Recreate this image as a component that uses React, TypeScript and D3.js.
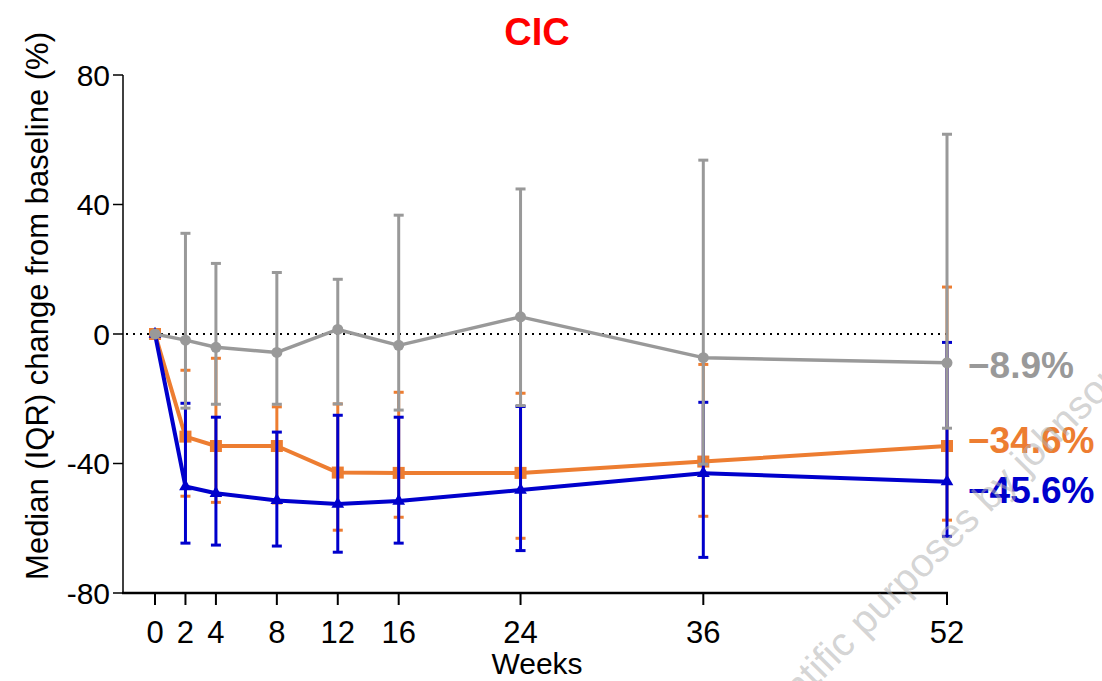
import React from "react";
import * as d3 from "d3";

const weeks = [0, 2, 4, 8, 12, 16, 24, 36, 52];
const xTicks = [0, 2, 4, 8, 12, 16, 24, 36, 52];
const yTicks = [-80, -40, 0, 40, 80];

const grayMedian = [0, -1.9, -4.1, -5.7, 1.4, -3.5, 5.3, -7.3, -8.9];
const grayQ1 = [0, -22.9, -21.7, -21.7, -21.6, -23.5, -22.1, -40.2, -29.1];
const grayQ3 = [0, 31.1, 21.8, 19.0, 16.9, 36.7, 44.8, 53.7, 61.7];

const orangeMedian = [0, -31.7, -34.6, -34.6, -42.8, -42.9, -42.9, -39.4, -34.6];
const orangeQ1 = [0, -50.1, -52.0, -52.2, -60.6, -56.6, -63.1, -56.3, -57.5];
const orangeQ3 = [0, -11.2, -7.5, -22.5, -21.6, -18.0, -18.3, -9.4, 14.5];

const blueMedian = [0, -47.1, -49.2, -51.4, -52.5, -51.6, -48.2, -43.0, -45.6];
const blueQ1 = [0, -64.6, -65.2, -65.5, -67.4, -64.6, -66.9, -69.0, -62.5];
const blueQ3 = [0, -21.4, -25.7, -30.3, -25.1, -25.7, -22.4, -21.1, -2.6];

const endLabels = ["\u22128.9%", "\u221234.6%", "\u221245.6%"];

const GRAY = "#999999";
const ORANGE = "#ED7D31";
const BLUE = "#0000CC";

const x = d3.scaleLinear().domain([0, 52]).range([155, 947]);
const y = d3.scaleLinear().domain([-80, 80]).range([593, 75]);

type Series = {
  med: number[];
  q1: number[];
  q3: number[];
  color: string;
  marker: "circle" | "square" | "triangle";
  lw: number;
};

const seriesList: Series[] = [
  { med: orangeMedian, q1: orangeQ1, q3: orangeQ3, color: ORANGE, marker: "square", lw: 4 },
  { med: blueMedian, q1: blueQ1, q3: blueQ3, color: BLUE, marker: "triangle", lw: 4 },
  { med: grayMedian, q1: grayQ1, q3: grayQ3, color: GRAY, marker: "circle", lw: 3.5 },
];

const FONT = "'Liberation Sans', Arial, sans-serif";

function Marker({ s, cx, cy }: { s: Series; cx: number; cy: number }) {
  if (s.marker === "circle") return <circle cx={cx} cy={cy} r={5.5} fill={s.color} />;
  if (s.marker === "square")
    return <rect x={cx - 6} y={cy - 6} width={12} height={12} fill={s.color} />;
  const sym = d3.symbol().type(d3.symbolTriangle).size(70)();
  return <path d={sym || ""} transform={`translate(${cx},${cy})`} fill={s.color} />;
}

export default function App() {
  const line = d3
    .line<number>()
    .x((_, i) => x(weeks[i]))
    .y((d) => y(d));

  return (
    <svg
      width={1102}
      height={681}
      style={{ position: "absolute", left: 0, top: 0, background: "#fff" }}
      fontFamily={FONT}
    >
      {/* title */}
      <text x={537} y={45} textAnchor="middle" fontSize={38} fontWeight="bold" fill="#FF0000">
        CIC
      </text>

      {/* y axis */}
      <line x1={123} x2={123} y1={y(80)} y2={y(-80)} stroke="#000" strokeWidth={1.5} />
      {yTicks.map((t) => (
        <g key={t}>
          <line x1={113} x2={123} y1={y(t)} y2={y(t)} stroke="#000" strokeWidth={1.5} />
          <text x={110} y={y(t)} dy="0.36em" textAnchor="end" fontSize={30} fill="#000">
            {t}
          </text>
        </g>
      ))}
      <text
        transform={`translate(48,${y(0) - 28}) rotate(-90)`}
        textAnchor="middle"
        fontSize={31}
        fill="#000"
      >
        Median (IQR) change from baseline (%)
      </text>

      {/* x axis */}
      <line x1={122} x2={x(52) + 1} y1={593} y2={593} stroke="#000" strokeWidth={2.5} />
      {xTicks.map((t) => (
        <g key={t}>
          <line x1={x(t)} x2={x(t)} y1={593} y2={605} stroke="#000" strokeWidth={2} />
          <text x={x(t)} y={643} textAnchor="middle" fontSize={31} fill="#000">
            {t}
          </text>
        </g>
      ))}
      <text x={537} y={674} textAnchor="middle" fontSize={30} fill="#000">
        Weeks
      </text>

      {/* zero reference line */}
      <line
        x1={126}
        x2={x(52)}
        y1={y(0)}
        y2={y(0)}
        stroke="#000"
        strokeWidth={2}
        strokeDasharray="2 5"
      />

      {/* series */}
      {seriesList.map((s, si) => (
        <g key={si}>
          {weeks.map((w, i) =>
            i === 0 ? null : (
              <g key={i}>
                <line
                  x1={x(w)}
                  x2={x(w)}
                  y1={y(s.q1[i])}
                  y2={y(s.q3[i])}
                  stroke={s.color}
                  strokeWidth={3}
                />
                <line
                  x1={x(w) - 5}
                  x2={x(w) + 5}
                  y1={y(s.q1[i])}
                  y2={y(s.q1[i])}
                  stroke={s.color}
                  strokeWidth={3}
                />
                <line
                  x1={x(w) - 5}
                  x2={x(w) + 5}
                  y1={y(s.q3[i])}
                  y2={y(s.q3[i])}
                  stroke={s.color}
                  strokeWidth={3}
                />
              </g>
            )
          )}
          <path d={line(s.med) || ""} fill="none" stroke={s.color} strokeWidth={s.lw} strokeLinejoin="round" />
          {weeks.map((w, i) => (
            <Marker key={i} s={s} cx={x(w)} cy={y(s.med[i])} />
          ))}
        </g>
      ))}

      {/* end labels */}
      <text x={968} y={378} fontSize={37} fontWeight="bold" fill={GRAY}>
        {endLabels[0]}
      </text>
      <text x={968} y={453} fontSize={37} fontWeight="bold" fill={ORANGE}>
        {endLabels[1]}
      </text>
      <text x={968} y={503} fontSize={37} fontWeight="bold" fill={BLUE}>
        {endLabels[2]}
      </text>

      {/* watermark (on top, translucent) */}
      <text
        x={749}
        y={754}
        transform="rotate(-45 749 754)"
        fontSize={40}
        fill="#b0b0b0"
        fillOpacity={0.55}
        fontFamily={FONT}
      >
        scientific purposes by johnson
      </text>
    </svg>
  );
}
